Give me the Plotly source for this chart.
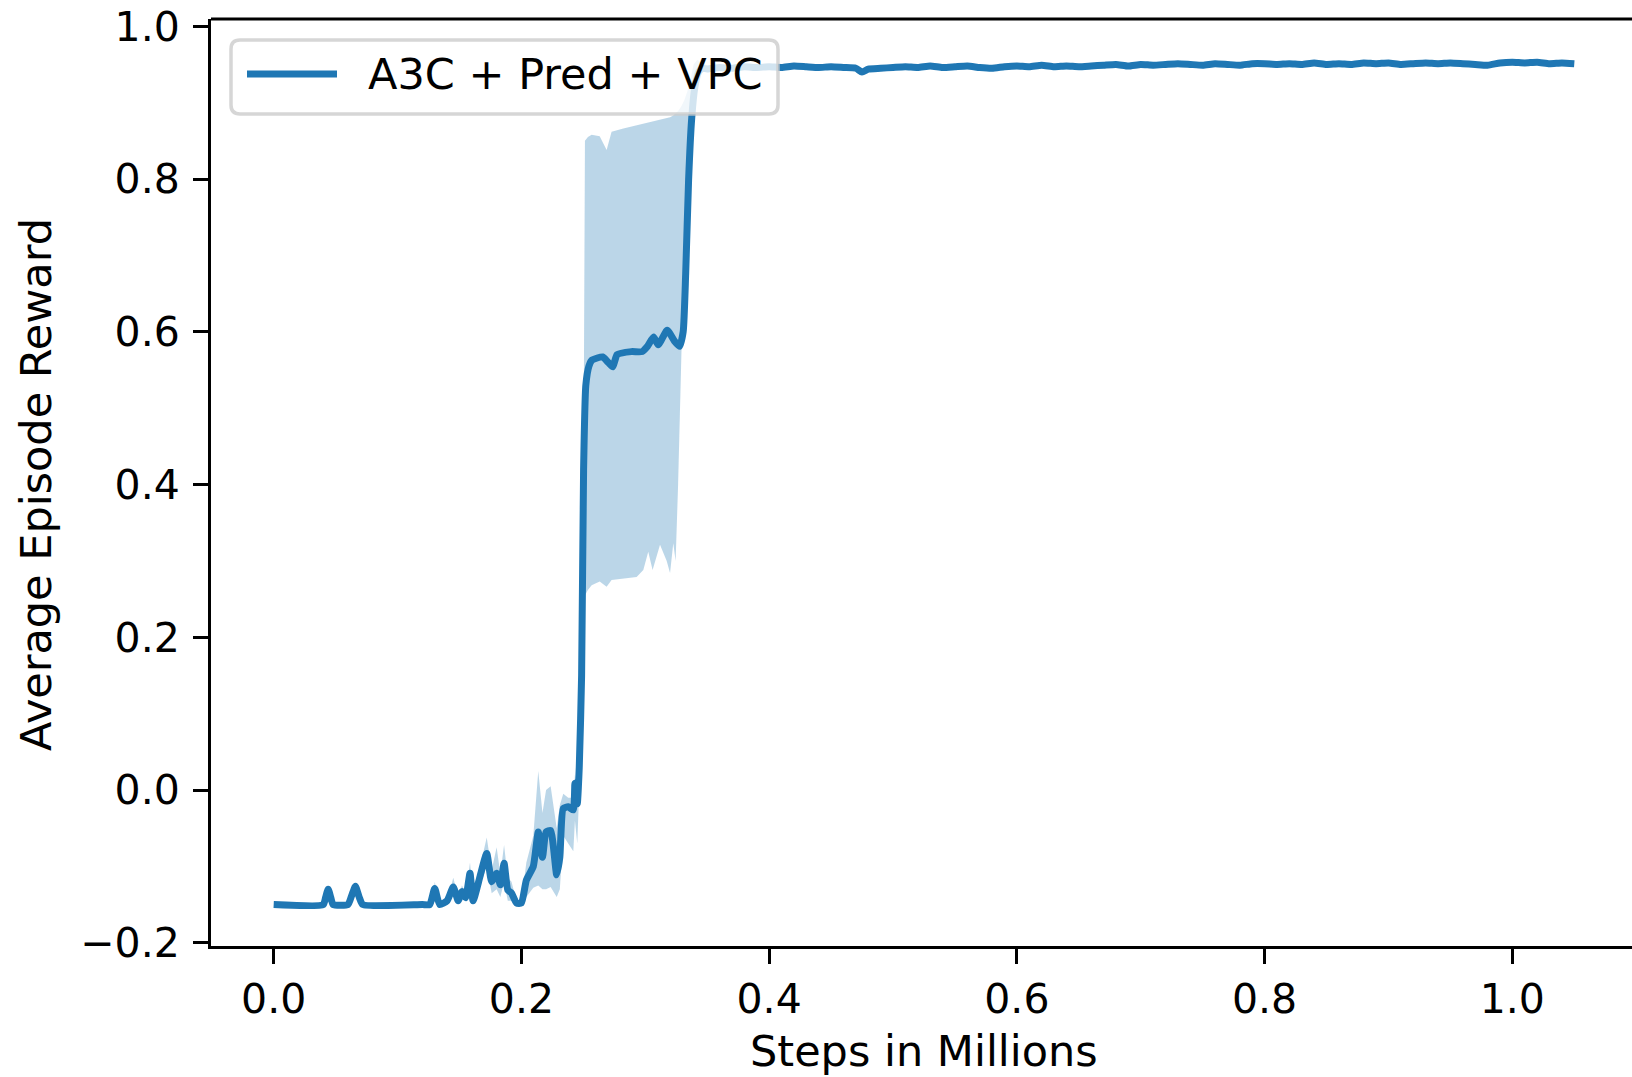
import plotly.graph_objects as go

# ---------------- data ----------------
mean_x = [0.000, 0.040, 0.042, 0.044, 0.046, 0.048, 0.060, 0.063, 0.066, 0.069, 0.072,
          0.120, 0.126, 0.130, 0.134, 0.140, 0.145, 0.149, 0.152, 0.155, 0.1585, 0.161,
          0.1666, 0.172, 0.176, 0.180, 0.183, 0.186, 0.189, 0.192, 0.196, 0.200, 0.204,
          0.2096, 0.2136, 0.217, 0.2199, 0.2236, 0.2285, 0.231, 0.2338, 0.2378, 0.2419,
          0.2432, 0.2451, 0.2467, 0.2486, 0.2502, 0.2520, 0.2545, 0.257, 0.2656, 0.270,
          0.2738, 0.2772, 0.2888, 0.2975, 0.3018, 0.3067, 0.3105, 0.3177, 0.3235, 0.3277,
          0.3306, 0.3326, 0.3350, 0.3375, 0.3400, 0.3430, 0.3460,
          0.35, 0.36, 0.37, 0.38, 0.39, 0.40, 0.41, 0.42, 0.43, 0.44, 0.45, 0.46, 0.47,
          0.475, 0.48, 0.49, 0.50, 0.51, 0.52, 0.53, 0.54, 0.55, 0.56, 0.57, 0.58, 0.59,
          0.60, 0.61, 0.62, 0.63, 0.64, 0.65, 0.66, 0.67, 0.68, 0.69, 0.70, 0.71, 0.72,
          0.73, 0.74, 0.75, 0.76, 0.77, 0.78, 0.79, 0.80, 0.81, 0.82, 0.83, 0.84, 0.85,
          0.86, 0.87, 0.88, 0.89, 0.90, 0.91, 0.92, 0.93, 0.94, 0.95, 0.96, 0.97, 0.98,
          0.99, 1.00, 1.01, 1.02, 1.03, 1.04, 1.05]
mean_y = [-0.150, -0.150, -0.140, -0.130, -0.140, -0.150, -0.150, -0.138, -0.126, -0.140, -0.150,
          -0.150, -0.150, -0.129, -0.150, -0.145, -0.127, -0.145, -0.133, -0.141, -0.109, -0.145,
          -0.113, -0.083, -0.120, -0.109, -0.124, -0.096, -0.131, -0.135, -0.148, -0.148, -0.118,
          -0.100, -0.055, -0.088, -0.055, -0.053, -0.111, -0.088, -0.024, -0.022, -0.026,
          0.009, -0.018, 0.030, 0.150, 0.420, 0.530, 0.555, 0.563, 0.567, 0.560,
          0.554, 0.570, 0.574, 0.574, 0.581, 0.593, 0.583, 0.602, 0.588, 0.581,
          0.600, 0.675, 0.800, 0.880, 0.920, 0.940, 0.945,
          0.944, 0.946, 0.945, 0.947, 0.946, 0.947, 0.946, 0.948, 0.947, 0.946, 0.947, 0.946, 0.945,
          0.940, 0.944, 0.945, 0.946, 0.947, 0.946, 0.948, 0.946, 0.947, 0.948, 0.946, 0.945, 0.947,
          0.948, 0.947, 0.949, 0.947, 0.948, 0.947, 0.948, 0.949, 0.950, 0.948, 0.950, 0.949, 0.950,
          0.951, 0.950, 0.949, 0.951, 0.950, 0.949, 0.951, 0.951, 0.950, 0.951, 0.950, 0.952, 0.950,
          0.951, 0.950, 0.952, 0.951, 0.952, 0.950, 0.951, 0.952, 0.951, 0.952, 0.951, 0.950, 0.949,
          0.952, 0.953, 0.952, 0.953, 0.951, 0.952, 0.951]

band_x = [0.120, 0.128, 0.130, 0.134, 0.140, 0.145, 0.149, 0.152, 0.155, 0.1585, 0.161,
          0.1666, 0.172, 0.176, 0.180, 0.183, 0.186, 0.189, 0.192, 0.196, 0.200, 0.204,
          0.2096, 0.2136, 0.217, 0.2199, 0.2236, 0.2285, 0.231, 0.2338, 0.2378, 0.2419,
          0.2432, 0.2451, 0.2467, 0.2486, 0.2502, 0.2513, 0.2537, 0.2567, 0.2632, 0.2688,
          0.2728, 0.2823, 0.2930, 0.2984, 0.3024, 0.3059, 0.3119, 0.3173, 0.3200, 0.3226,
          0.3245, 0.3265, 0.3290, 0.3315, 0.3340, 0.3365, 0.3390, 0.3420, 0.3450, 0.3500, 0.3600]
band_lo = [-0.150, -0.150, -0.135, -0.150, -0.150, -0.132, -0.147, -0.138, -0.145, -0.120, -0.148,
           -0.125, -0.100, -0.135, -0.130, -0.140, -0.120, -0.145, -0.145, -0.150, -0.150, -0.140,
           -0.128, -0.125, -0.130, -0.130, -0.127, -0.140, -0.130, -0.060, -0.070, -0.080,
           -0.040, -0.070, 0.000, 0.020, 0.200, 0.255, 0.262, 0.268, 0.273, 0.266,
           0.275, 0.277, 0.279, 0.288, 0.312, 0.288, 0.321, 0.300, 0.284, 0.323,
           0.300, 0.400, 0.580, 0.720, 0.840, 0.895, 0.925, 0.938, 0.940, 0.940, 0.943]
band_hi = [-0.150, -0.150, -0.120, -0.150, -0.145, -0.115, -0.140, -0.125, -0.135, -0.095, -0.140,
           -0.100, -0.062, -0.105, -0.075, -0.110, -0.072, -0.115, -0.120, -0.145, -0.145, -0.095,
           -0.060, 0.025, -0.030, 0.000, 0.005, -0.050, -0.020, -0.005, -0.010, -0.010,
           0.020, 0.000, 0.060, 0.100, 0.450, 0.850, 0.855, 0.858, 0.856, 0.838,
           0.862, 0.866, 0.870, 0.872, 0.874, 0.875, 0.877, 0.879, 0.881, 0.883,
           0.886, 0.889, 0.895, 0.903, 0.915, 0.930, 0.950, 0.956, 0.953, 0.949, 0.950]

series_name = "A3C + Pred + VPC"
x_ticks = [0.0, 0.2, 0.4, 0.6, 0.8, 1.0]
y_ticks = [-0.2, 0.0, 0.2, 0.4, 0.6, 0.8, 1.0]
x_title = "Steps in Millions"
y_title = "Average Episode Reward"

# ---------------- layout geometry (pixels) ----------------
W, H = 1632, 1077
L, R, T, B = 211, 0, 19, 131
PW, PH = W - L - R, H - T - B
FONT = "DejaVu Sans"
FS_TICK = 41
FS_TEXT = 43
BLUE = "#1f77b4"

def px(xp):
    return (xp - L) / PW

def py(yp):
    return (H - B - yp) / PH

fig = go.Figure()
fig.add_trace(go.Scatter(x=band_x, y=band_lo, mode="lines", line=dict(width=0),
                         hoverinfo="skip", showlegend=False))
fig.add_trace(go.Scatter(x=band_x, y=band_hi, mode="lines", line=dict(width=0),
                         fill="tonexty", fillcolor="rgba(31,119,180,0.3)",
                         hoverinfo="skip", showlegend=False))
fig.add_trace(go.Scatter(x=mean_x, y=mean_y, mode="lines", name=series_name,
                         line=dict(color=BLUE, width=7, shape="spline", smoothing=0.5),
                         showlegend=False))

axis_common = dict(showgrid=False, zeroline=False, showline=True, linecolor="black",
                   linewidth=3, ticks="outside", ticklen=15, tickwidth=3, tickcolor="black",
                   tickfont=dict(family=FONT, size=FS_TICK, color="black"), tickformat=".1f")

fig.update_xaxes(range=[-0.0506, 1.0966], tickvals=x_ticks, ticklabelstandoff=0, **axis_common)
fig.update_yaxes(range=[-0.2042, 1.0095], tickvals=y_ticks, ticklabelstandoff=5, **axis_common)

# top spine
shapes = [dict(type="line", xref="paper", yref="paper", x0=0, x1=1, y0=1, y1=1,
               line=dict(color="black", width=3), layer="above")]

# legend box (rounded)
bx0, bx1, by0, by1 = px(231), px(778), py(114), py(40)
r = 9
rx, ry = r / PW, r / PH
path = (f"M {bx0+rx},{by0} L {bx1-rx},{by0} Q {bx1},{by0} {bx1},{by0+ry} "
        f"L {bx1},{by1-ry} Q {bx1},{by1} {bx1-rx},{by1} "
        f"L {bx0+rx},{by1} Q {bx0},{by1} {bx0},{by1-ry} "
        f"L {bx0},{by0+ry} Q {bx0},{by0} {bx0+rx},{by0} Z")
shapes.append(dict(type="path", xref="paper", yref="paper", path=path,
                   fillcolor="rgba(255,255,255,0.8)",
                   line=dict(color="rgba(204,204,204,0.8)", width=3.5), layer="above"))
shapes.append(dict(type="line", xref="paper", yref="paper", x0=px(247), x1=px(337),
                   y0=py(74), y1=py(74), line=dict(color=BLUE, width=7), layer="above"))

annotations = [
    dict(text=series_name, xref="paper", yref="paper", x=px(366), y=py(74),
         xanchor="left", yanchor="middle", showarrow=False,
         font=dict(family=FONT, size=FS_TEXT, color="black")),
    dict(text=x_title, xref="paper", yref="paper", x=px(924), y=py(1051),
         xanchor="center", yanchor="middle", showarrow=False,
         font=dict(family=FONT, size=FS_TEXT, color="black")),
    dict(text=y_title, xref="paper", yref="paper", x=px(36), y=py(485),
         xanchor="center", yanchor="middle", showarrow=False, textangle=-90,
         font=dict(family=FONT, size=FS_TEXT, color="black")),
]

fig.update_layout(width=W, height=H, margin=dict(l=L, r=R, t=T, b=B, pad=0),
                  paper_bgcolor="white", plot_bgcolor="white",
                  shapes=shapes, annotations=annotations, showlegend=False,
                  font=dict(family=FONT, size=FS_TICK, color="black"))

fig.write_html("out.html")
